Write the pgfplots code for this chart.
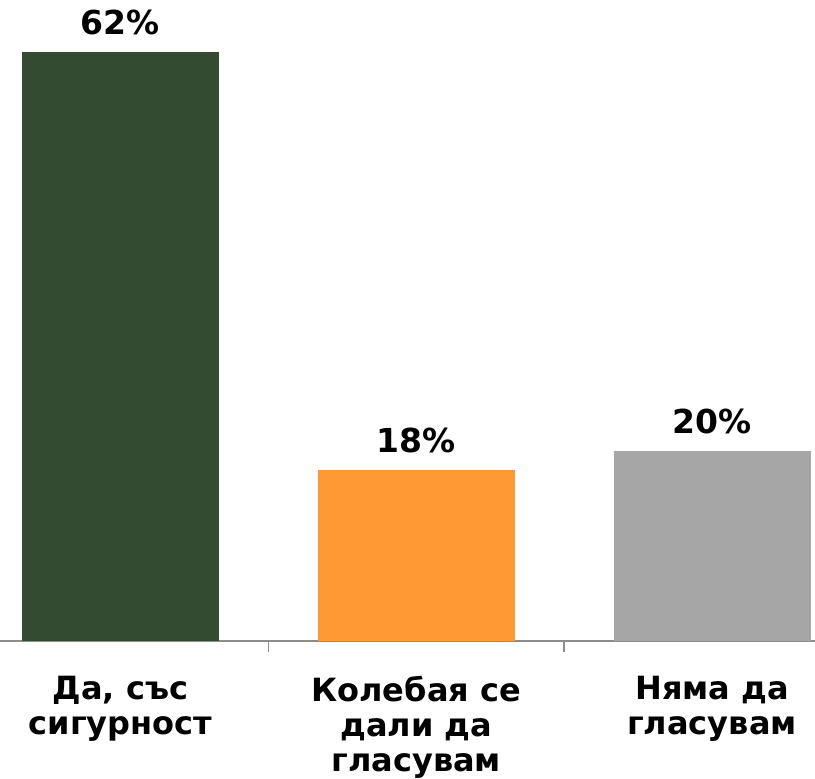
\documentclass[border=0pt]{standalone}
\usepackage{pgfplots}
\pgfplotsset{compat=1.18}
\usepackage{fontspec}
\setmainfont{DejaVu Sans}
\definecolor{cgreen}{HTML}{324B31}
\definecolor{corange}{HTML}{FF9933}
\definecolor{cgray}{HTML}{A6A6A6}
\definecolor{caxis}{HTML}{8C8C8C}
\begin{document}
\begin{tikzpicture}
\path[use as bounding box] (0,0) rectangle (815pt,779pt);
\begin{axis}[at={(0pt,138pt)},anchor=south west,scale only axis,
  width=815pt,height=641pt,
  xmin=-0.407,xmax=2.348,ymin=0,ymax=67.47,
  ybar,bar width=197pt,
  axis x line*=bottom,axis y line=none,
  x axis line style={-,caxis,line width=1.5pt},
  xtick={0,1,2},major tick length=0pt,
  minor xtick={0.5,1.5},minor tick length=11pt,xtick align=outside,
  minor tick style={caxis,line width=1.5pt},
  xticklabels={{Да, със\\сигурност},{Колебая се\\дали да\\гласувам},{Няма да\\гласувам}},
  xticklabel style={font=\fontsize{32}{35}\selectfont\bfseries,align=center,anchor=north,inner sep=0pt,yshift=-35pt},
  nodes near coords={\pgfmathprintnumber{\pgfplotspointmeta}\%},
  every node near coord/.append style={font=\fontsize{33}{38}\selectfont\bfseries,anchor=south,inner sep=0pt,yshift=17pt},
  /pgf/number format/assume math mode=true,
  clip=false]
\addplot[fill=cgreen,draw=none,bar shift=0pt] coordinates {(0,62)};
\addplot[fill=corange,draw=none,bar shift=0pt] coordinates {(1,18)};
\addplot[fill=cgray,draw=none,bar shift=0pt] coordinates {(2,20)};
\end{axis}
\end{tikzpicture}
\end{document}
